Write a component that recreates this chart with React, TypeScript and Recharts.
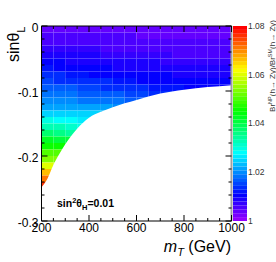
import { ComposedChart, XAxis, YAxis, Area, Bar, Cell, ReferenceArea, ReferenceLine } from "recharts";

// bin edges of the 2D histogram
const massEdges = [200, 250, 300, 350, 400, 450, 500, 550, 600, 650, 700, 750, 800, 850, 900, 950, 1000];
const sinEdges = [0, -0.01, -0.02, -0.03, -0.04, -0.05, -0.06, -0.07, -0.08, -0.09, -0.1, -0.11, -0.12, -0.13, -0.14, -0.15,
  -0.16, -0.17, -0.18, -0.19, -0.2, -0.21, -0.22, -0.23, -0.24, -0.25, -0.26, -0.27, -0.28, -0.29, -0.3];

// Br^NP/Br^SM per mass bin, listed from sinθL = 0 downwards (only the allowed cells)
const ratioByMassBin: number[][] = [
  [1.004, 1.005, 1.006, 1.007, 1.009, 1.010, 1.012, 1.014, 1.015, 1.017, 1.018, 1.020, 1.022, 1.025, 1.029, 1.032, 1.037, 1.042, 1.046, 1.051, 1.054, 1.060, 1.066, 1.071, 1.076],
  [1.004, 1.005, 1.006, 1.007, 1.008, 1.010, 1.011, 1.013, 1.014, 1.016, 1.018, 1.020, 1.022, 1.025, 1.028, 1.032, 1.036, 1.041, 1.045, 1.050, 1.054, 1.059],
  [1.004, 1.005, 1.006, 1.007, 1.008, 1.009, 1.011, 1.012, 1.014, 1.016, 1.018, 1.020, 1.022, 1.025, 1.028, 1.031, 1.035, 1.040, 1.044],
  [1.004, 1.005, 1.006, 1.007, 1.008, 1.009, 1.010, 1.012, 1.013, 1.015, 1.017, 1.019, 1.022, 1.024, 1.027, 1.030],
  [1.004, 1.005, 1.006, 1.007, 1.008, 1.009, 1.010, 1.011, 1.013, 1.015, 1.017, 1.019, 1.021, 1.024, 1.026],
  [1.004, 1.005, 1.006, 1.006, 1.007, 1.008, 1.010, 1.011, 1.013, 1.014, 1.016, 1.018, 1.021, 1.023],
  [1.004, 1.005, 1.005, 1.006, 1.007, 1.008, 1.009, 1.011, 1.012, 1.014, 1.016, 1.018, 1.020],
  [1.004, 1.005, 1.005, 1.006, 1.007, 1.008, 1.009, 1.010, 1.012, 1.013, 1.015, 1.017],
  [1.004, 1.004, 1.005, 1.006, 1.007, 1.008, 1.009, 1.010, 1.011, 1.013, 1.015, 1.016],
  [1.004, 1.004, 1.005, 1.006, 1.007, 1.008, 1.009, 1.010, 1.011, 1.012, 1.014],
  [1.004, 1.004, 1.005, 1.006, 1.007, 1.007, 1.008, 1.010, 1.011, 1.012, 1.014],
  [1.004, 1.004, 1.005, 1.006, 1.006, 1.007, 1.008, 1.009, 1.010, 1.012, 1.013],
  [1.004, 1.004, 1.005, 1.006, 1.006, 1.007, 1.008, 1.009, 1.010, 1.011],
  [1.004, 1.004, 1.005, 1.005, 1.006, 1.007, 1.008, 1.009, 1.010, 1.011],
  [1.004, 1.004, 1.005, 1.005, 1.006, 1.007, 1.008, 1.009, 1.010, 1.011],
  [1.004, 1.004, 1.005, 1.005, 1.006, 1.007, 1.008, 1.009, 1.010, 1.011],
];

// edge of the allowed region (white below)
const boundaryMass = [200, 225, 250, 275, 300, 350, 400, 450, 500, 600, 700, 800, 900, 1000];
const boundarySin = [-0.248, -0.235, -0.214, -0.197, -0.182, -0.158, -0.141, -0.132, -0.125, -0.114, -0.104, -0.098, -0.094, -0.091];

const massTicks = [200, 250, 300, 350, 400, 450, 500, 550, 600, 650, 700, 750, 800, 850, 900, 950, 1000];
const sinTicks = [0, -0.02, -0.04, -0.06, -0.08, -0.1, -0.12, -0.14, -0.16, -0.18, -0.2, -0.22, -0.24, -0.26, -0.28, -0.3];
const zTicks = [1, 1.02, 1.04, 1.06, 1.08];

const Z_MIN = 1;
const Z_MAX = 1.08;
const N_COLORS = 50;

const PLOT_LEFT = 41.5;
const PLOT_RIGHT = 231.5;
const PLOT_TOP = 26;
const PLOT_BOTTOM = 221;
const CBAR_LEFT = 232.5;
const CBAR_WIDTH = 14;
const FONT = "'Liberation Sans', Arial, Helvetica, sans-serif";

// ROOT "pretty" palette (hue 280 -> 0)
const colorIndex = (z: number) => Math.max(0, Math.min(N_COLORS - 1, Math.floor(((z - Z_MIN) / (Z_MAX - Z_MIN)) * N_COLORS)));
const paletteColor = (i: number) => `hsl(${280 - (i + 1) * (280 / N_COLORS)}, 100%, 50%)`;

const boundary = boundaryMass.map((m, i) => ({ mT: m, sinL: boundarySin[i] }));

const bands = Array.from({ length: N_COLORS }, (_, i) => ({
  pos: 0.5,
  range: [Z_MIN + (i * (Z_MAX - Z_MIN)) / N_COLORS, Z_MIN + ((i + 1) * (Z_MAX - Z_MIN)) / N_COLORS],
  color: paletteColor(i),
}));

const XTick = (props: any) => {
  const { x, payload } = props;
  const v = payload.value;
  const major = v % 200 === 0;
  const len = major ? 6 : 3;
  return (
    <g>
      <line x1={x} x2={x} y1={PLOT_BOTTOM} y2={PLOT_BOTTOM - len} stroke="#000" />
      <line x1={x} x2={x} y1={PLOT_TOP} y2={PLOT_TOP + len} stroke="#000" />
      {major && (
        <text x={x} y={232} textAnchor="middle" fontSize={12} fontFamily={FONT} fill="#000">
          {v}
        </text>
      )}
    </g>
  );
};

const YTick = (props: any) => {
  const { y, payload } = props;
  const v = payload.value;
  const major = Math.abs(v * 10 - Math.round(v * 10)) < 1e-6;
  const len = major ? 6 : 3;
  return (
    <g>
      <line x1={PLOT_LEFT} x2={PLOT_LEFT + len} y1={y} y2={y} stroke="#000" />
      <line x1={PLOT_RIGHT} x2={PLOT_RIGHT - len} y1={y} y2={y} stroke="#000" />
      {major && (
        <text x={38.5} y={y + 1.5} dy="0.36em" textAnchor="end" fontSize={12} fontFamily={FONT} fill="#000">
          {v === 0 ? "0" : v.toFixed(1)}
        </text>
      )}
    </g>
  );
};

// colorbar labels, in the colorbar chart's own coordinates
const ZTick = (props: any) => {
  const { y, payload } = props;
  const v = payload.value;
  return (
    <text x={CBAR_WIDTH + 1} y={y} dy="0.35em" textAnchor="start" fontSize={8.5} fontFamily={FONT} fill="#333">
      {v === 1 ? "1" : v.toFixed(2)}
    </text>
  );
};

export default function App() {
  return (
    <div style={{ position: "absolute", left: 0, top: 0, width: 276, height: 262, background: "#fff", fontFamily: FONT }}>
      <div style={{ position: "absolute", left: 0, top: 0 }}>
        <ComposedChart width={276} height={262} data={boundary} margin={{ top: PLOT_TOP, right: 276 - PLOT_RIGHT, bottom: 0, left: 0 }}>
          <XAxis
            dataKey="mT"
            type="number"
            domain={[200, 1000]}
            allowDataOverflow
            ticks={massTicks}
            interval={0}
            height={262 - PLOT_BOTTOM}
            tickLine={false}
            axisLine={{ stroke: "#000" }}
            tick={(p: any) => <XTick {...p} />}
          />
          <YAxis
            type="number"
            domain={[-0.3, 0]}
            allowDataOverflow
            ticks={sinTicks}
            interval={0}
            width={PLOT_LEFT}
            tickLine={false}
            axisLine={{ stroke: "#000" }}
            tick={(p: any) => <YTick {...p} />}
          />
          {ratioByMassBin.map((col, ci) =>
            col.map((z, ri) => (
              <ReferenceArea
                key={`c${ci}-${ri}`}
                x1={massEdges[ci]}
                x2={massEdges[ci + 1]}
                y1={sinEdges[ri]}
                y2={sinEdges[ri + 1]}
                fill={paletteColor(colorIndex(z))}
                fillOpacity={1}
                stroke="none"
                zIndex={10}
              />
            ))
          )}
          <Area
            dataKey="sinL"
            type="monotone"
            baseValue="dataMin"
            fill="#fff"
            fillOpacity={1}
            stroke="none"
            isAnimationActive={false}
            dot={false}
            activeDot={false}
            zIndex={20}
          />
          <ReferenceLine x={1000} stroke="#a0a0a0" strokeWidth={2} zIndex={30} />
          <ReferenceLine y={0} stroke="#000" zIndex={30} />
        </ComposedChart>
      </div>
      <div style={{ position: "absolute", left: CBAR_LEFT, top: 0 }}>
        <ComposedChart width={276 - CBAR_LEFT} height={262} data={bands} margin={{ top: PLOT_TOP, right: 0, bottom: 262 - PLOT_BOTTOM, left: 0 }}>
          <XAxis hide type="number" dataKey="pos" domain={[0, 1]} allowDataOverflow />
          <YAxis
            orientation="right"
            type="number"
            domain={[Z_MIN, Z_MAX]}
            allowDataOverflow
            ticks={zTicks}
            interval={0}
            width={276 - CBAR_LEFT - CBAR_WIDTH}
            tickLine={false}
            axisLine={false}
            tick={(p: any) => <ZTick {...p} />}
          />
          <Bar dataKey="range" barSize={CBAR_WIDTH} isAnimationActive={false}>
            {bands.map((b, i) => (
              <Cell key={`b${i}`} fill={b.color} />
            ))}
          </Bar>
        </ComposedChart>
      </div>
      <svg width={276} height={262} style={{ position: "absolute", left: 0, top: 0, pointerEvents: "none" }}>
        <text transform="translate(18.5,26.5) rotate(-90)" textAnchor="end" fontSize={16} fontFamily={FONT} fill="#000">
          sinθ<tspan dy={6} fontSize={11}>L</tspan>
        </text>
        <text x={231} y={252} textAnchor="end" fontSize={16} fontFamily={FONT} fill="#000">
          <tspan fontStyle="italic">m</tspan>
          <tspan dy={4} fontSize={11} fontStyle="italic">T</tspan>
          <tspan dy={-4}>{"\u00a0(GeV)"}</tspan>
        </text>
        <text x={57} y={207} fontSize={10.5} fontWeight="bold" fontFamily={FONT} fill="#000">
          sin<tspan dy={-4} fontSize={7.5}>2</tspan>
          <tspan dy={4}>θ</tspan>
          <tspan dy={3} fontSize={7.5}>H</tspan>
          <tspan dy={-3}>=0.01</tspan>
        </text>
        <text transform="translate(274.5,20) rotate(-90)" textAnchor="end" fontSize={8} fontFamily={FONT} fill="#333">
          Br<tspan dy={-3} fontSize={5.5}>NP</tspan>
          <tspan dy={3}>(h→ Zγ)/Br</tspan>
          <tspan dy={-3} fontSize={5.5}>SM</tspan>
          <tspan dy={3}>(h→ Zγ)</tspan>
        </text>
      </svg>
    </div>
  );
}
